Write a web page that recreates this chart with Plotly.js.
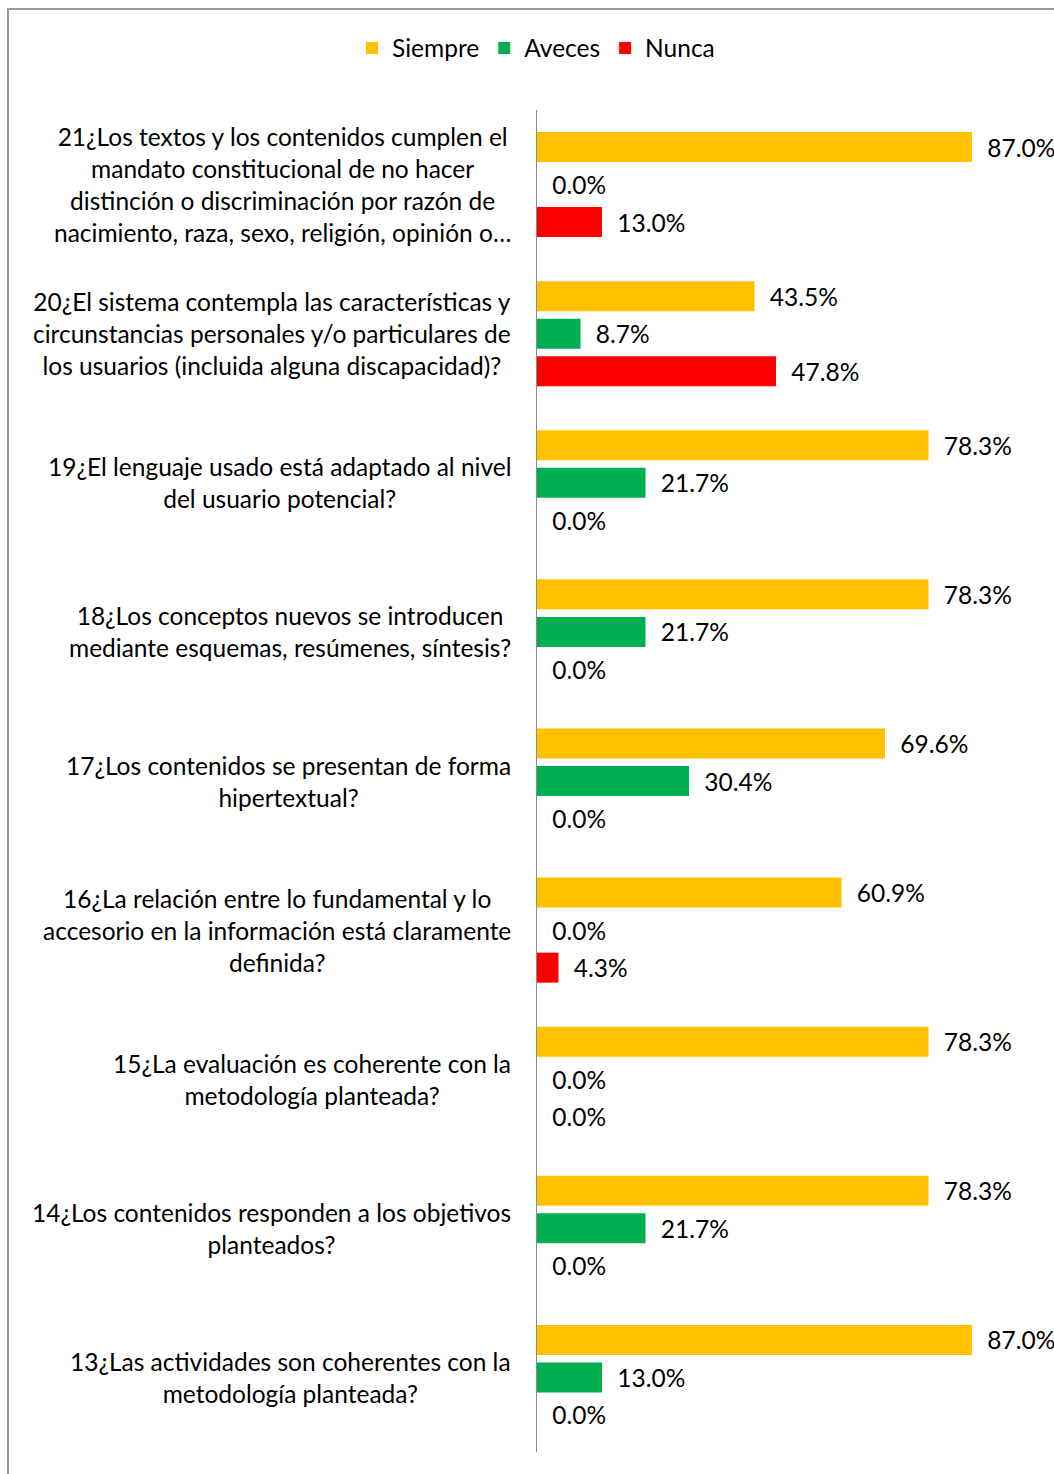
<!DOCTYPE html>
<html>
<head>
<meta charset="utf-8">
<script src="https://cdn.plot.ly/plotly-3.0.1.min.js"></script>
<style>
html,body{margin:0;padding:0;background:#fff;}
#chart{width:1054px;height:1474px;}
</style>
</head>
<body>
<div id="chart"></div>
<script>
const categories = [
  "21¿Los textos y los contenidos cumplen el<br>mandato constitucional de no hacer<br>distinción o discriminación por razón de<br>nacimiento, raza, sexo, religión, opinión o…",
  "20¿El sistema contempla las características y<br>circunstancias personales y/o particulares de<br>los usuarios (incluida alguna discapacidad)?",
  "19¿El lenguaje usado está adaptado al nivel<br>del usuario potencial?",
  "18¿Los conceptos nuevos se introducen<br>mediante esquemas, resúmenes, síntesis?",
  "17¿Los contenidos se presentan de forma<br>hipertextual?",
  "16¿La relación entre lo fundamental y lo<br>accesorio en la información está claramente<br>definida?",
  "15¿La evaluación es coherente con la<br>metodología planteada?",
  "14¿Los contenidos responden a los objetivos<br>planteados?",
  "13¿Las actividades son coherentes con la<br>metodología planteada?"
];
const siempre = [0.870, 0.435, 0.783, 0.783, 0.696, 0.609, 0.783, 0.783, 0.870];
const aveces  = [0.000, 0.087, 0.217, 0.217, 0.304, 0.000, 0.000, 0.217, 0.130];
const nunca   = [0.130, 0.478, 0.000, 0.000, 0.000, 0.043, 0.000, 0.000, 0.000];
const seriesNames = ["Siempre", "Aveces", "Nunca"];
const seriesColors = ["#FFC000", "#00B050", "#FF0000"];

const FONT = "Lato, 'Open Sans', sans-serif";
const FS = 24.5;

const seriesData = [siempre, aveces, nunca];
const traces = seriesData.map((vals, i) => ({
  type: "bar",
  orientation: "h",
  name: seriesNames[i],
  y: categories,
  x: vals,
  marker: {color: seriesColors[i]},
  texttemplate: "\u2002%{x:.1%}",
  textposition: "outside",
  constraintext: "none",
  cliponaxis: false,
  textfont: {family: FONT, size: FS, color: "#000"},
  hoverinfo: "skip"
}));

const annotations = categories.map(c => ({
  xref: "paper", yref: "y",
  x: 0, y: c,
  xanchor: "right", yanchor: "middle",
  xshift: -24,
  align: "center",
  showarrow: false,
  text: c,
  font: {family: FONT, size: FS, color: "#000"}
}));

const layout = {
  width: 1054, height: 1474,
  margin: {l: 537, r: 17, t: 110, b: 22, pad: 0},
  paper_bgcolor: "#fff", plot_bgcolor: "rgba(0,0,0,0)",
  barmode: "group",
  bargap: 0.245,
  bargroupgap: 0.2,
  showlegend: true,
  legend: {
    orientation: "h",
    x: -0.37, xanchor: "left",
    y: 1.0462, yanchor: "middle",
    font: {family: FONT, size: FS, color: "#000"},
    traceorder: "normal"
  },
  xaxis: {range: [0, 1], visible: false, fixedrange: true},
  yaxis: {
    autorange: "reversed",
    showticklabels: false,
    ticks: "",
    showgrid: false,
    zeroline: false,
    showline: true,
    linecolor: "#8c8c8c",
    linewidth: 1.5,
    fixedrange: true
  },
  annotations: annotations,
  shapes: [{
    type: "rect", xref: "paper", yref: "paper",
    x0: -1.058, x1: 1.2, y0: -0.2, y1: 1.0753,
    line: {color: "#999", width: 2},
    fillcolor: "rgba(0,0,0,0)",
    layer: "below"
  }]
};

Plotly.newPlot("chart", traces, layout, {displayModeBar: false, staticPlot: true});
</script>
</body>
</html>
